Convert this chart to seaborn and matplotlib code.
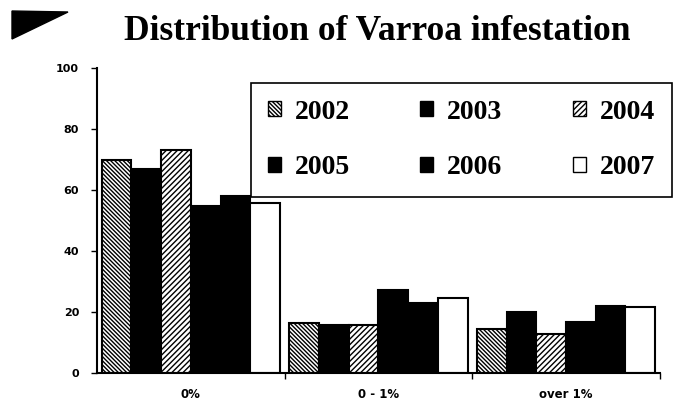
import matplotlib
matplotlib.use("Agg")
import matplotlib.pyplot as plt
import seaborn as sns
import pandas as pd
from matplotlib.patches import Patch, Polygon

# values (% of colonies)
categories = ["0%", "0 - 1%", "over 1%"]
years = ["2002", "2003", "2004", "2005", "2006", "2007"]
v2002 = [69.7, 16.4, 14.5]
v2003 = [66.8, 15.8, 20.0]
v2004 = [73.0, 15.8, 12.8]
v2005 = [54.7, 27.3, 16.8]
v2006 = [58.0, 23.0, 22.0]
v2007 = [55.6, 24.7, 21.7]
yticks = [0, 20, 40, 60, 80, 100]

series = [v2002, v2003, v2004, v2005, v2006, v2007]
df = pd.DataFrame(
    [(c, y, vals[i]) for y, vals in zip(years, series) for i, c in enumerate(categories)],
    columns=["range", "year", "pct"],
)

sns.set_style("white")
plt.rcParams["text.color"] = "black"
plt.rcParams["xtick.color"] = "black"
plt.rcParams["ytick.color"] = "black"
plt.rcParams["hatch.linewidth"] = 1.0
serif = ["Liberation Serif", "DejaVu Serif"]

faces = ["white", "black", "white", "black", "black", "white"]
hatches = ["\\\\\\\\\\\\\\\\", None, "//////", None, None, None]

fig = plt.figure(figsize=(6.74, 4.04), dpi=100)
ax = fig.add_axes([0.144, 0.0767, 0.835, 0.755])

sns.barplot(data=df, x="range", y="pct", hue="year", hue_order=years,
            order=categories, palette=faces, width=0.95, saturation=1,
            legend=False, ax=ax)

for cont, fc, h in zip(ax.containers, faces, hatches):
    for bar in cont:
        bar.set_facecolor(fc)
        bar.set_edgecolor("black")
        bar.set_linewidth(1.5)
        if h:
            bar.set_hatch(h)

ax.set_xlim(-0.5, 2.5)
ax.set_ylim(0, 100)
ax.set_yticks(yticks)
ax.set_yticklabels([str(t) for t in yticks], fontsize=8, fontweight="heavy")
ax.set_xticks(range(len(categories)))
ax.set_xticklabels(categories, fontsize=8.5, fontweight="heavy")
ax.set_xticks([0.5, 1.5, 2.5], minor=True)
ax.tick_params(axis="x", which="major", length=0, pad=11)
ax.tick_params(axis="x", which="minor", length=4, width=1, direction="out", bottom=True)
ax.tick_params(axis="y", length=4, width=1, direction="out", left=True, pad=9)
ax.set_xlabel("")
ax.set_ylabel("")
for s in ["top", "right"]:
    ax.spines[s].set_visible(False)
for s in ["left", "bottom"]:
    ax.spines[s].set_color("black")
    ax.spines[s].set_linewidth(1.5)

# legend fills row by row: 2002 2003 2004 / 2005 2006 2007
handles = [Patch(facecolor=fc, edgecolor="black", hatch=h, linewidth=1, label=y)
           for fc, h, y in zip(faces, hatches, years)]
handles = [handles[i] for i in (0, 3, 1, 4, 2, 5)]
leg = ax.legend(handles=handles, ncol=3, loc="upper left",
                bbox_to_anchor=(0.274, 0.5, 0.747, 0.451), mode="expand",
                borderaxespad=0,
                frameon=True, fancybox=False, framealpha=1, edgecolor="black",
                prop={"family": serif, "weight": "bold", "size": 20},
                handlelength=0.47, handleheight=0.47, handletextpad=0.5,
                labelspacing=1.1, borderpad=0.6, columnspacing=1.0)
leg.get_frame().set_linewidth(1.2)
leg.set_zorder(5)

fig.text(0.56, 0.922, "Distribution of Varroa infestation", ha="center", va="center",
         fontsize=25.5, fontweight="bold", family=serif)

tri = Polygon([(12 / 674, 1 - 11 / 404), (68 / 674, 1 - 12 / 404), (12 / 674, 1 - 39 / 404)],
              closed=True, facecolor="black", edgecolor="black", transform=fig.transFigure)
fig.add_artist(tri)

fig.savefig("out.png", dpi=100)
